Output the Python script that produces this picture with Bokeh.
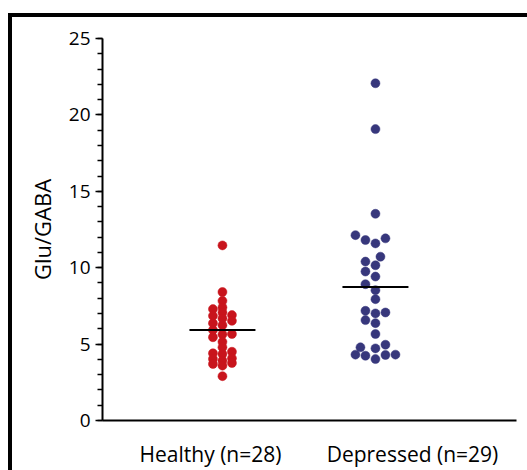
from bokeh.plotting import figure
from bokeh.models import Range1d, FixedTicker
from bokeh.embed import file_html
from bokeh.resources import INLINE

# ---------------- data ----------------
groups = ["Healthy (n=28)", "Depressed (n=29)"]
healthy = [11.46, 8.41, 7.83, 7.40, 7.29, 7.07, 6.90, 6.85, 6.68, 6.52, 6.37,
           6.24, 5.92, 5.64, 5.66, 5.45, 5.15, 4.79, 4.40, 4.35, 4.50, 4.07,
           4.03, 3.91, 3.76, 3.70, 3.59, 2.90]
depressed = [22.07, 19.07, 13.53, 11.81, 11.59, 12.13, 11.92, 10.72, 10.40,
             10.16, 9.75, 9.42, 8.92, 8.53, 7.94, 7.18, 7.01, 7.07, 6.57, 6.37,
             5.66, 4.96, 4.72, 4.79, 4.31, 4.24, 4.29, 4.31, 4.02]
group_means = [5.92, 8.74]
y_ticks = [0, 5, 10, 15, 20, 25]

# ---------------- layout ----------------
W, H = 527, 470
ML, MR, MT = 102, 11, 38
FRAME_W = W - ML - MR
FRAME_H = 384
MB = H - MT - FRAME_H
X0, X1 = 0.216, 0.216 + FRAME_W / 153.0
PX_X = FRAME_W / (X1 - X0)
PX_Y = FRAME_H / 25.0


def swarm(vals, center, dmin, step, ncand):
    cands = [0.0]
    for k in range(1, ncand):
        cands += [-k * step, k * step]
    placed = []
    xs = [0.0] * len(vals)
    for i in sorted(range(len(vals)), key=lambda j: vals[j]):
        y = vals[i] * PX_Y
        best, bestd = None, -1
        for off in cands:
            d = min([((off - px) ** 2 + (y - py) ** 2) ** 0.5 for px, py in placed] or [1e9])
            if d >= dmin:
                best = off
                break
            if d > bestd:
                bestd, best = d, off
        placed.append((best, y))
        xs[i] = center + best / PX_X
    return xs


hx = swarm(healthy, 1.0, 5.0, 9.5, 2)
dx = swarm(depressed, 2.0, 9.0, 5.0, 5)

p = figure(width=W, height=H, output_backend="svg", toolbar_location=None,
           x_range=Range1d(X0, X1), y_range=Range1d(0, 25),
           min_border_left=ML, min_border_right=MR, min_border_top=MT,
           min_border_bottom=MB)
p.outline_line_color = None
p.grid.visible = False
p.background_fill_color = "white"
p.border_fill_color = "white"
p.border_fill_alpha = 0.0
# black panel frame (top and left edges) painted behind the transparent canvas border
p.styles = {
    "background-color": "white",
    "background-image": "linear-gradient(black, black), linear-gradient(black, black)",
    "background-position": "8px 13px, 8px 13px",
    "background-size": "4px 100%, 100% 4px",
    "background-repeat": "no-repeat, no-repeat",
}

FONT = "Open Sans"

# y axis
ya = p.yaxis[0]
ya.ticker = FixedTicker(ticks=y_ticks, minor_ticks=list(range(0, 26)))
ya.axis_line_width = 2
ya.axis_line_color = "black"
ya.major_tick_out = 7
ya.major_tick_in = 0
ya.minor_tick_out = 5
ya.minor_tick_in = 0
ya.major_tick_line_width = 1.5
ya.minor_tick_line_width = 1.5
ya.major_label_standoff = 5
ya.major_label_text_font = FONT
ya.major_label_text_font_size = "19px"
ya.major_label_text_color = "black"
ya.axis_label = "Glu/GABA"
ya.axis_label_text_font = FONT
ya.axis_label_text_font_size = "22px"
ya.axis_label_text_font_style = "normal"
ya.axis_label_text_color = "black"
ya.axis_label_standoff = 9

# x axis
label_pos = [0.922, 2.242]
xa = p.xaxis[0]
xa.ticker = FixedTicker(ticks=label_pos, minor_ticks=[])
xa.major_label_overrides = {label_pos[i]: groups[i] for i in range(2)}
xa.axis_line_width = 2
xa.axis_line_color = "black"
xa.major_tick_out = 0
xa.major_tick_in = 0
xa.minor_tick_out = 0
xa.major_label_standoff = 19
xa.major_label_text_font = FONT
xa.major_label_text_font_size = "21px"
xa.major_label_text_color = "black"

# points
p.scatter(hx, healthy, size=9, fill_color="#c8141c", line_color="#c8141c",
          line_width=0.5)
p.scatter(dx, depressed, size=9, fill_color="#37377c", line_color="#37377c",
          line_width=0.5)

# mean lines
half = 33 / PX_X
for i, m in enumerate(group_means):
    c = i + 1.0
    p.line([c - half, c + half], [m, m], line_color="black", line_width=2)

open("out.html", "w").write(file_html(p, INLINE))
